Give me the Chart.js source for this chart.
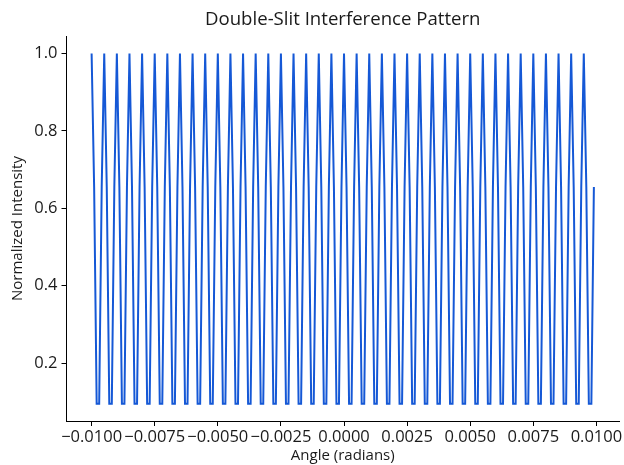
<!DOCTYPE html>
<html>
<head>
<meta charset="utf-8">
<script src="https://cdn.jsdelivr.net/npm/chart.js@4.4.0/dist/chart.umd.min.js"></script>
<style>
  html, body { margin: 0; padding: 0; background: #fff; }
  #chart { display: block; }
</style>
</head>
<body>
<canvas id="chart" width="624" height="465"></canvas>
<script>
// angle samples (radians)
const angles = [
  -0.0100, -0.0099, -0.0098, -0.0097, -0.0096, -0.0095, -0.0094, -0.0093, -0.0092, -0.0091,
  -0.0090, -0.0089, -0.0088, -0.0087, -0.0086, -0.0085, -0.0084, -0.0083, -0.0082, -0.0081,
  -0.0080, -0.0079, -0.0078, -0.0077, -0.0076, -0.0075, -0.0074, -0.0073, -0.0072, -0.0071,
  -0.0070, -0.0069, -0.0068, -0.0067, -0.0066, -0.0065, -0.0064, -0.0063, -0.0062, -0.0061,
  -0.0060, -0.0059, -0.0058, -0.0057, -0.0056, -0.0055, -0.0054, -0.0053, -0.0052, -0.0051,
  -0.0050, -0.0049, -0.0048, -0.0047, -0.0046, -0.0045, -0.0044, -0.0043, -0.0042, -0.0041,
  -0.0040, -0.0039, -0.0038, -0.0037, -0.0036, -0.0035, -0.0034, -0.0033, -0.0032, -0.0031,
  -0.0030, -0.0029, -0.0028, -0.0027, -0.0026, -0.0025, -0.0024, -0.0023, -0.0022, -0.0021,
  -0.0020, -0.0019, -0.0018, -0.0017, -0.0016, -0.0015, -0.0014, -0.0013, -0.0012, -0.0011,
  -0.0010, -0.0009, -0.0008, -0.0007, -0.0006, -0.0005, -0.0004, -0.0003, -0.0002, -0.0001,
  0.0000, 0.0001, 0.0002, 0.0003, 0.0004, 0.0005, 0.0006, 0.0007, 0.0008, 0.0009,
  0.0010, 0.0011, 0.0012, 0.0013, 0.0014, 0.0015, 0.0016, 0.0017, 0.0018, 0.0019,
  0.0020, 0.0021, 0.0022, 0.0023, 0.0024, 0.0025, 0.0026, 0.0027, 0.0028, 0.0029,
  0.0030, 0.0031, 0.0032, 0.0033, 0.0034, 0.0035, 0.0036, 0.0037, 0.0038, 0.0039,
  0.0040, 0.0041, 0.0042, 0.0043, 0.0044, 0.0045, 0.0046, 0.0047, 0.0048, 0.0049,
  0.0050, 0.0051, 0.0052, 0.0053, 0.0054, 0.0055, 0.0056, 0.0057, 0.0058, 0.0059,
  0.0060, 0.0061, 0.0062, 0.0063, 0.0064, 0.0065, 0.0066, 0.0067, 0.0068, 0.0069,
  0.0070, 0.0071, 0.0072, 0.0073, 0.0074, 0.0075, 0.0076, 0.0077, 0.0078, 0.0079,
  0.0080, 0.0081, 0.0082, 0.0083, 0.0084, 0.0085, 0.0086, 0.0087, 0.0088, 0.0089,
  0.0090, 0.0091, 0.0092, 0.0093, 0.0094, 0.0095, 0.0096, 0.0097, 0.0098, 0.0099
];

// normalized intensity, one value per angle
const intensity = [
  1.0, 0.655, 0.095, 0.095, 0.655, 1.0, 0.655, 0.095, 0.095, 0.655,
  1.0, 0.655, 0.095, 0.095, 0.655, 1.0, 0.655, 0.095, 0.095, 0.655,
  1.0, 0.655, 0.095, 0.095, 0.655, 1.0, 0.655, 0.095, 0.095, 0.655,
  1.0, 0.655, 0.095, 0.095, 0.655, 1.0, 0.655, 0.095, 0.095, 0.655,
  1.0, 0.655, 0.095, 0.095, 0.655, 1.0, 0.655, 0.095, 0.095, 0.655,
  1.0, 0.655, 0.095, 0.095, 0.655, 1.0, 0.655, 0.095, 0.095, 0.655,
  1.0, 0.655, 0.095, 0.095, 0.655, 1.0, 0.655, 0.095, 0.095, 0.655,
  1.0, 0.655, 0.095, 0.095, 0.655, 1.0, 0.655, 0.095, 0.095, 0.655,
  1.0, 0.655, 0.095, 0.095, 0.655, 1.0, 0.655, 0.095, 0.095, 0.655,
  1.0, 0.655, 0.095, 0.095, 0.655, 1.0, 0.655, 0.095, 0.095, 0.655,
  1.0, 0.655, 0.095, 0.095, 0.655, 1.0, 0.655, 0.095, 0.095, 0.655,
  1.0, 0.655, 0.095, 0.095, 0.655, 1.0, 0.655, 0.095, 0.095, 0.655,
  1.0, 0.655, 0.095, 0.095, 0.655, 1.0, 0.655, 0.095, 0.095, 0.655,
  1.0, 0.655, 0.095, 0.095, 0.655, 1.0, 0.655, 0.095, 0.095, 0.655,
  1.0, 0.655, 0.095, 0.095, 0.655, 1.0, 0.655, 0.095, 0.095, 0.655,
  1.0, 0.655, 0.095, 0.095, 0.655, 1.0, 0.655, 0.095, 0.095, 0.655,
  1.0, 0.655, 0.095, 0.095, 0.655, 1.0, 0.655, 0.095, 0.095, 0.655,
  1.0, 0.655, 0.095, 0.095, 0.655, 1.0, 0.655, 0.095, 0.095, 0.655,
  1.0, 0.655, 0.095, 0.095, 0.655, 1.0, 0.655, 0.095, 0.095, 0.655,
  1.0, 0.655, 0.095, 0.095, 0.655, 1.0, 0.655, 0.095, 0.095, 0.655
];

const xTicks = [-0.01, -0.0075, -0.005, -0.0025, 0, 0.0025, 0.005, 0.0075, 0.01];
const yTicks = [0.2, 0.4, 0.6, 0.8, 1.0];
const chartTitle = "Double-Slit Interference Pattern";

const fontFamily = "'Open Sans', sans-serif";
const textColor = "#1a1a1a";

function fmtAngle(v) {
  const s = Math.abs(v).toFixed(4);
  return v < -1e-9 ? "\u2212" + s : s;
}

// title centred over the plot area, like the reference
const axesTitle = {
  id: "axesTitle",
  afterDraw(chart) {
    const { ctx, chartArea } = chart;
    ctx.save();
    ctx.font = "18.6px " + fontFamily;
    ctx.fillStyle = textColor;
    ctx.textAlign = "center";
    ctx.textBaseline = "middle";
    ctx.fillText(chartTitle, (chartArea.left + chartArea.right) / 2, 20);
    ctx.restore();
  },
};

new Chart(document.getElementById("chart"), {
  type: "line",
  data: {
    datasets: [
      {
        data: angles.map((a, i) => ({ x: a, y: intensity[i] })),
        borderColor: "#1558d6",
        borderWidth: 2,
        pointRadius: 0,
        tension: 0,
        fill: false,
      },
    ],
  },
  plugins: [axesTitle],
  options: {
    responsive: false,
    animation: false,
    devicePixelRatio: 1,
    layout: { padding: { left: 0, right: 5, top: 36, bottom: 0 } },
    plugins: {
      legend: { display: false },
      tooltip: { enabled: false },
      title: { display: false },
    },
    scales: {
      x: {
        type: "linear",
        min: -0.010995,
        max: 0.010895,
        afterBuildTicks: (scale) => {
          scale.ticks = xTicks.map((v) => ({ value: v }));
        },
        afterFit: (scale) => {
          scale.height = 44;
        },
        ticks: {
          callback: (v) => fmtAngle(v),
          color: textColor,
          font: { family: fontFamily, size: 16.5 },
          padding: 1,
          maxRotation: 0,
          autoSkip: false,
        },
        grid: {
          display: true,
          drawOnChartArea: false,
          drawTicks: true,
          tickLength: 5,
          tickColor: "#000",
          tickWidth: 1,
        },
        border: { display: true, color: "#000", width: 1 },
        title: {
          display: true,
          text: "Angle (radians)",
          color: textColor,
          font: { family: fontFamily, size: 15 },
          padding: { top: 0, bottom: 0 },
        },
      },
      y: {
        type: "linear",
        min: 0.0503,
        max: 1.0452,
        afterBuildTicks: (scale) => {
          scale.ticks = yTicks.map((v) => ({ value: v }));
        },
        afterFit: (scale) => {
          scale.width = 66.5;
        },
        ticks: {
          callback: (v) => v.toFixed(1),
          color: textColor,
          font: { family: fontFamily, size: 16.5 },
          padding: 4,
        },
        grid: {
          display: true,
          drawOnChartArea: false,
          drawTicks: true,
          tickLength: 5,
          tickColor: "#000",
          tickWidth: 1,
        },
        border: { display: true, color: "#000", width: 1 },
        title: {
          display: true,
          text: "Normalized Intensity",
          color: textColor,
          font: { family: fontFamily, size: 15 },
          padding: { top: 9, bottom: 0 },
        },
      },
    },
  },
});
</script>
</body>
</html>
